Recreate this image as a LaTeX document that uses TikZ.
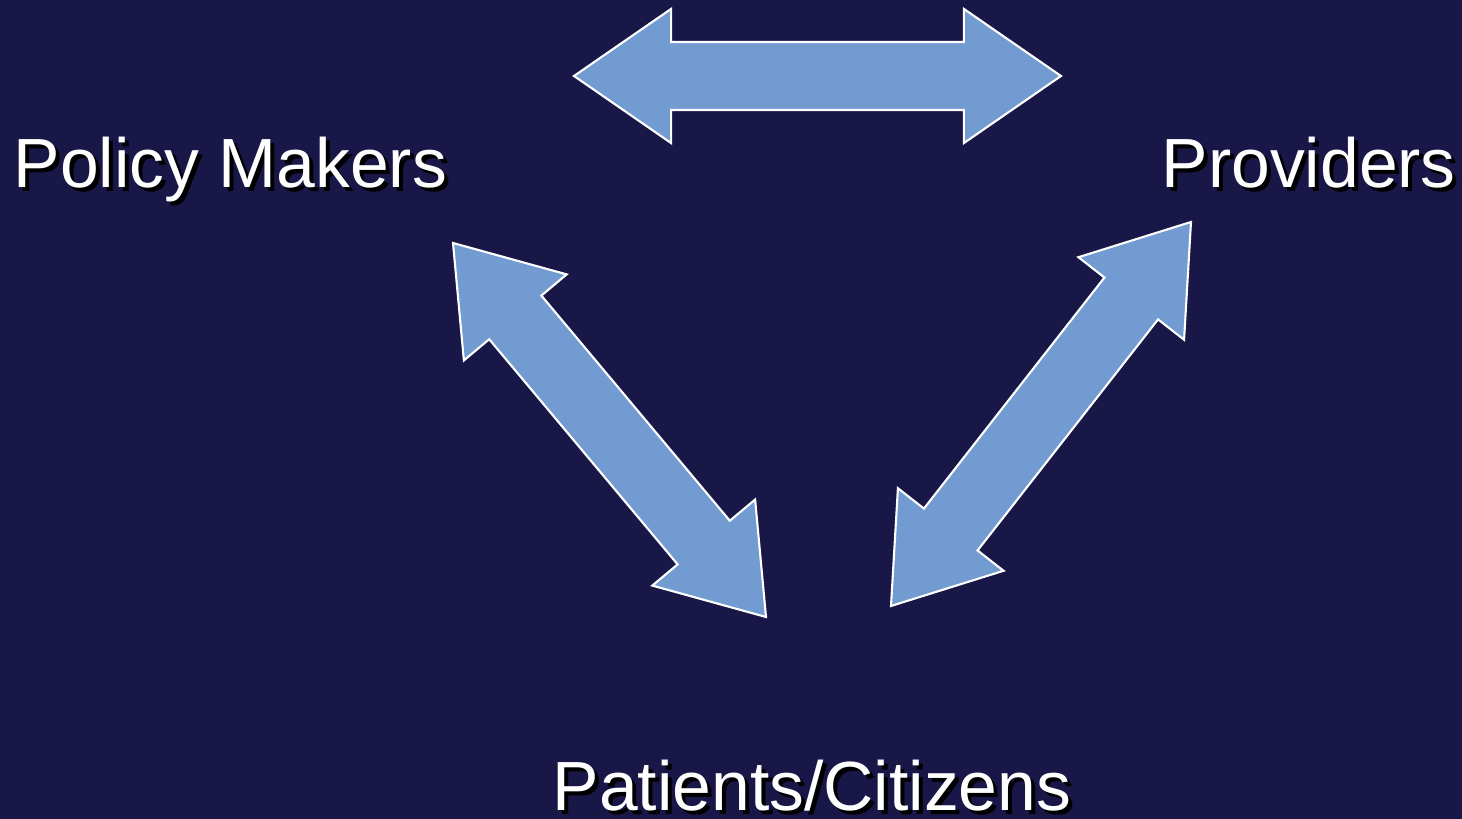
\documentclass[tikz,border=0pt]{standalone}
\usepackage{fontspec}
\setmainfont{Liberation Sans}
\usetikzlibrary{calc}
\definecolor{slideNavy}{RGB}{25,22,72}
\definecolor{arrowBlue}{RGB}{114,155,209}
% Label with a dropped black shadow.
\newcommand{\castLabel}[3]{%
  \node[shadowStyle] at ($(#1)+(4,4)$) {#3};
  \node[labelStyle] (#2) at (#1) {#3};
}
% Block arrow with a head at both tips.
\newcommand{\twoWayArrow}[2]{%
  \coordinate (hA) at ($(#1)!0.97cm!(#2)$);
  \coordinate (hB) at ($(#2)!0.97cm!(#1)$);
  \draw[arrowStyle] (#1)
    -- ($(hA)!0.67cm!90:(#2)$) -- ($(hA)!0.34cm!90:(#2)$)
    -- ($(hB)!0.34cm!-90:(#1)$) -- ($(hB)!0.67cm!-90:(#1)$)
    -- (#2)
    -- ($(hB)!0.67cm!90:(#1)$) -- ($(hB)!0.34cm!90:(#1)$)
    -- ($(hA)!0.34cm!-90:(#2)$) -- ($(hA)!0.67cm!-90:(#2)$)
    -- cycle;
}

\begin{document}
\begin{tikzpicture}[x=0.01cm,y=-0.01cm,%
  labelStyle/.style={anchor=base west,inner sep=0pt,text=white,
    font=\fontsize{19.8pt}{23pt}\selectfont},%
  shadowStyle/.style={labelStyle,text=black},%
  arrowStyle/.style={fill=arrowBlue,draw=white,line width=0.6pt,line join=miter}%
]
%
\useasboundingbox (0,0) rectangle (1462,819);
\fill[slideNavy] (0,0) rectangle (1462,819);
%
% Where the labels sit (base line, left end).
\coordinate (policyBase) at (13,188);
\coordinate (providerBase) at (1161,188);
\coordinate (patientBase) at (552,811);
% Arrow tips.
\coordinate (topLeft) at (574,76);
\coordinate (topRight) at (1061,76);
\coordinate (leftUp) at (453,243);
\coordinate (leftDown) at (766,617);
\coordinate (rightUp) at (1191,222);
\coordinate (rightDown) at (891,606);
%
% The three parties.
\castLabel{policyBase}{policy}{Policy Makers}
\castLabel{providerBase}{providers}{Providers}
\castLabel{patientBase}{patients}{Patients/Citizens}
%
% Links between them.
\twoWayArrow{topLeft}{topRight}
\twoWayArrow{leftUp}{leftDown}
\twoWayArrow{rightUp}{rightDown}
\end{tikzpicture}
\end{document}
